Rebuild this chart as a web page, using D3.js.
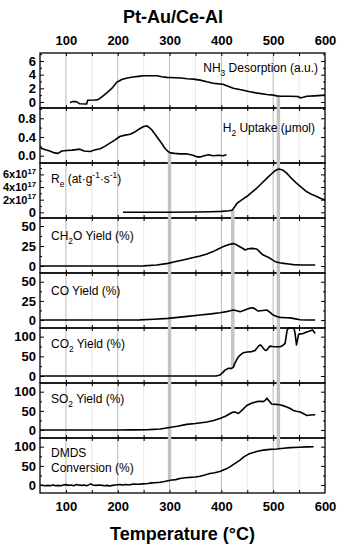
<!DOCTYPE html>
<meta charset="utf-8">
<script src="https://d3js.org/d3.v7.min.js"></script>
<style>
  body { margin: 0; background: #fff; }
  text { font-family: "Liberation Sans", Arial, sans-serif; }
</style>
<div id="my_dataviz"></div>
<script>

// ---- data: [temperature (°C), value] ----
var nh3 = [[108,-0.1],[112,0.05],[120,0.05],[126,-0.25],[140,-0.3],[142,0.25],[155,0.3],[162,0.35],[170,0.8],[180,1.4],
  [190,2.1],[198,2.9],[208,3.3],[218,3.5],[230,3.65],[240,3.75],[250,3.85],[262,3.85],[276,3.85],[285,3.7],[295,3.6],
  [310,3.55],[322,3.5],[334,3.4],[346,3.35],[359,3.2],[372,2.95],[384,2.75],[395,2.65],[403,2.6],[413,2.3],[423,2.0],
  [440,1.75],[455,1.5],[470,1.3],[488,1.1],[500,1.0],[507,0.9],[515,0.85],[533,0.85],[548,0.8],[552,0.6],[558,0.7],
  [565,0.85],[580,0.9],[600,1.0]];

var h2 = [[50,0.18],[55,0.15],[62,0.12],[69,0.1],[78,0.06],[85,0.05],[92,0.1],[102,0.11],[112,0.12],[120,0.13],[127,0.14],
  [135,0.1],[147,0.09],[155,0.12],[166,0.15],[175,0.2],[185,0.27],[195,0.34],[204,0.41],[214,0.44],[224,0.46],[232,0.5],
  [240,0.56],[249,0.62],[256,0.64],[261,0.6],[266,0.55],[272,0.46],[278,0.37],[285,0.26],[291,0.16],[297,0.09],[302,0.06],
  [310,0.05],[320,0.04],[332,0.04],[345,0.01],[352,-0.02],[359,-0.03],[367,0.0],[375,0.02],[384,0.0],[395,0.01],[403,0.0],[410,0.02]];

// Re in units of 1e17 at g-1 s-1
var re = [[210,0],[250,0],[300,0.02],[350,0.05],[380,0.1],[400,0.15],[415,0.25],[421,0.35],[425,0.8],[430,1.4],[440,2.0],
  [449,2.5],[458,3.1],[468,3.8],[478,4.6],[488,5.4],[497,6.1],[504,6.6],[511,6.85],[518,6.7],[526,6.2],[535,5.4],
  [545,4.6],[555,3.9],[565,3.25],[575,2.8],[584,2.5],[592,2.2],[600,1.95]];

var ch2o = [[50,0],[200,0],[250,0.2],[275,1.2],[297,3.3],[310,5.2],[326,7.5],[342,10],[359,12.5],[372,15],[384,18],[395,21.5],
  [403,24],[413,26.5],[423,28],[428,27],[433,25],[440,22.5],[446,20],[452,21.5],[459,22],[465,21.5],[469,21],[475,17],
  [480,14],[487,12],[494,9.6],[500,7],[504,5.4],[512,4],[520,3.3],[530,2.4],[539,1.7],[555,1.3],[581,1.2]];

var co = [[50,0],[200,0],[243,0.2],[270,1],[297,2.2],[330,4.5],[359,6.5],[380,8],[397,9.5],[410,11],[417,12],[423,13],
  [430,12],[436,10.8],[443,12.5],[449,14],[455,15.5],[461,16],[466,14],[471,11.7],[480,12.5],[488,13],[494,10],[500,6.5],
  [507,4.5],[513,3.5],[525,3],[533,2.8],[543,1.5],[552,0.4],[565,0],[581,0]];

var co2 = [[50,0],[200,0],[300,0],[390,0],[397,2.5],[402,8],[407,15],[414,19.5],[420,19.5],[423,22],[426,32],[430,42],
  [433,49],[438,55],[442,59],[450,61],[459,62],[465,65],[468,70],[472,76],[475,79],[478,76],[481,70],[485,65],[488,66],
  [491,72],[494,76],[499,75],[504,74.5],[513,74.5],[518,77],[523,83],[527,117],[530,122],[540,122],[542,110],[545,79],
  [549,106],[553,107],[558,108],[563,111],[568,113],[572,115],[576,117],[581,108]];

var so2 = [[50,0],[200,0],[230,0.3],[260,1],[282,2.5],[297,6],[315,10],[333,14.6],[350,17],[372,21],[385,25],[397,30],
  [408,36],[417,43],[423,47],[428,46],[433,43],[440,52],[449,64],[458,70],[468,74],[475,75],[481,74],[485,78],[488,83],
  [492,76],[497,68],[505,67],[513,66],[520,63],[526,60],[533,56],[539,51],[545,49],[552,47],[558,43],[565,38],[572,39],[581,40]];

var dmds = [[50,0],[55,-1],[60,-2],[65,-1],[70,-2],[75,0],[80,-2],[85,-1],[90,-2],[95,0],[100,1],[105,-1],[110,0],[115,-2],
  [120,1],[125,0],[130,-1],[135,0],[140,-2],[145,1],[148,3],[152,0],[158,-1],[165,0],[170,-1],[175,-2],[180,-1],[185,-2.6],
  [190,-1],[195,0],[200,0.5],[205,1],[210,0],[215,1.5],[220,0.5],[225,1],[230,2.5],[240,2],[249,3],[258,4],[265,5.5],
  [272,6],[282,7],[290,9],[297,11],[305,13],[312,14],[320,17],[330,19],[340,20],[350,21],[359,23],[368,26],[378,30],
  [387,32],[397,35],[405,40],[412,44],[417,48],[425,55],[436,65],[442,72],[449,78],[455,82],[462,85],[470,88],[481,91],
  [494,93],[507,94],[520,96],[533,97.5],[550,98.5],[565,99.5],[578,100]];

// tick values
var xLabels = [100,200,300,400,500,600];
var xMinor = [100,150,200,250,300,350,400,450,500,550];
var xGridMajor = [100,200,300,400,500];
var xGridMinor = [150,250,350,450,550];

// grey marker bands: temperature, panel where it starts, panel where it ends
var bandTemps = [300,422,510];
var bandFrom = [1,2,0];
var bandTo = [7,5,7];

// ---- layout ----
var left = 40, right = 325, top0 = 53, panelH = 55;

var svg = d3.select("#my_dataviz")
  .append("svg")
    .attr("width", 340)
    .attr("height", 550);

var x = d3.scaleLinear().domain([50, 600]).range([left, right]);

var panels = [
  {data: nh3,  domain: [-0.88, 7.17], ticks: [0,2,4,6],   minor: [1,3,5,7],   fmt: d3.format("d"),
   label: [["NH"],["3","sub"],[" Desorption (a.u.)"]], lx: 318, ly: 19, anchor: "end"},
  {data: h2,   domain: [-0.156, 1.02], ticks: [0,0.4,0.8], minor: [0.2,0.6,1.0], fmt: d3.format(".1f"),
   label: [["H"],["2","sub"],[" Uptake (\u03bcmol)"]], lx: 315, ly: 24, anchor: "end"},
  {data: re,   domain: [-0.9, 7.8],   ticks: [0,2,4,6],   minor: [1,3,5,7],   fmt: null,
   label: [["R"],["e","sub"],[" (at\u00b7g"],["-1","sup"],["\u00b7s"],["-1","sup"],[")"]], lx: 51, ly: 20, anchor: "start"},
  {data: ch2o, domain: [-8.75, 60],   ticks: [0,25,50],   minor: [12.5,37.5], fmt: d3.format("d"),
   label: [["CH"],["2","sub"],["O Yield (%)"]], lx: 51, ly: 22, anchor: "start"},
  {data: co,   domain: [-10.4, 61.4], ticks: [0,25,50],   minor: [12.5,37.5], fmt: d3.format("d"),
   label: [["CO Yield (%)"]], lx: 51, ly: 22, anchor: "start"},
  {data: co2,  domain: [-17.8, 122],  ticks: [0,50,100],  minor: [25,75],     fmt: d3.format("d"),
   label: [["CO"],["2","sub"],[" Yield (%)"]], lx: 51, ly: 20, anchor: "start"},
  {data: so2,  domain: [-20.9, 122.7], ticks: [0,50,100], minor: [25,75],     fmt: d3.format("d"),
   label: [["SO"],["2","sub"],[" Yield (%)"]], lx: 51, ly: 20, anchor: "start"},
  {data: dmds, domain: [-20.9, 122.7], ticks: [0,50,100], minor: [25,75],     fmt: d3.format("d"),
   label: [["DMDS"]], label2: [["Conversion (%)"]], lx: 51, ly: 19, anchor: "start"}
];

panels.forEach(function(p, i) {
  p.top = top0 + i * panelH;
  p.bottom = p.top + panelH;
  p.y = d3.scaleLinear().domain(p.domain).range([p.bottom, p.top]);
});

// write a label with sub/superscripts
function rich(sel, parts, size) {
  var shift = 0;
  parts.forEach(function(p) {
    var want = p[1] == "sub" ? size * 0.3 : p[1] == "sup" ? -size * 0.4 : 0;
    sel.append("tspan")
      .text(p[0])
      .attr("dy", want - shift)
      .attr("font-size", p[1] ? size * 0.7 : size);
    shift = want;
  });
}

// linear lookup of a series at temperature t (for the grey band ends)
function valueAt(data, t) {
  for (var k = 1; k < data.length; k++) {
    if (data[k][0] >= t) {
      var a = data[k-1], b = data[k];
      return a[1] + (b[1] - a[1]) * (t - a[0]) / (b[0] - a[0]);
    }
  }
  return data[data.length-1][1];
}

var gridG = svg.append("g");
var axisG = svg.append("g");
var bandG = svg.append("g");
var lineG = svg.append("g");
var textG = svg.append("g");

panels.forEach(function(p, i) {
  // vertical grid
  gridG.selectAll(null).data(xGridMinor).enter().append("line")
    .attr("x1", function(d) { return x(d); }).attr("x2", function(d) { return x(d); })
    .attr("y1", p.top).attr("y2", p.bottom)
    .attr("stroke", "#e2e2e2").attr("stroke-width", 0.8);
  gridG.selectAll(null).data(xGridMajor).enter().append("line")
    .attr("x1", function(d) { return x(d); }).attr("x2", function(d) { return x(d); })
    .attr("y1", p.top).attr("y2", p.bottom)
    .attr("stroke", "#a8a8a8").attr("stroke-width", 0.8);

  // y axis left (inward ticks)
  var yl = axisG.append("g").attr("transform", "translate(" + left + ",0)")
    .call(d3.axisLeft(p.y).tickValues(p.ticks).tickSize(-4).tickPadding(4)
      .tickFormat(p.fmt ? p.fmt : function(d) { return d; }));
  yl.selectAll("text").attr("font-size", 13).attr("font-weight", "bold").attr("font-family", null).attr("fill", "#000");
  if (!p.fmt) {
    yl.selectAll(".tick text").each(function(d) {
      var t = d3.select(this).text("");
      if (d == 0) { t.attr("font-size", 13).text("0"); return; }
      t.attr("font-size", 11);
      rich(t, [[d + "x10"], ["17", "sup"]], 11);
      t.select("tspan").attr("dy", null);
    });
  }
  axisG.append("g").attr("transform", "translate(" + left + ",0)")
    .call(d3.axisLeft(p.y).tickValues(p.minor).tickSize(-2).tickFormat(""));

  // y axis right
  axisG.append("g").attr("transform", "translate(" + right + ",0)")
    .call(d3.axisRight(p.y).tickValues(p.ticks).tickSize(-4).tickFormat(""));
  axisG.append("g").attr("transform", "translate(" + right + ",0)")
    .call(d3.axisRight(p.y).tickValues(p.minor).tickSize(-2).tickFormat(""));

  // x ticks top and bottom of every panel
  axisG.append("g").attr("transform", "translate(0," + p.top + ")")
    .call(d3.axisTop(x).tickValues(xMinor).tickSize(-3).tickFormat(""));
  axisG.append("g").attr("transform", "translate(0," + p.bottom + ")")
    .call(d3.axisBottom(x).tickValues(xMinor).tickSize(-3).tickFormat(""));

  axisG.append("rect")
    .attr("x", left).attr("y", p.top)
    .attr("width", right - left).attr("height", panelH)
    .attr("fill", "none").attr("stroke", "#000").attr("stroke-width", 1.3);

  // the curve
  lineG.append("path")
    .datum(p.data)
    .attr("fill", "none")
    .attr("stroke", "#000")
    .attr("stroke-width", 1.6)
    .attr("stroke-linejoin", "round")
    .attr("d", d3.line().x(function(d) { return x(d[0]); }).y(function(d) { return p.y(d[1]); }));

  // panel label
  var lt = textG.append("text")
    .attr("x", p.lx).attr("y", p.top + p.ly)
    .attr("text-anchor", p.anchor).attr("font-size", 12);
  rich(lt, p.label, 12);
  if (p.label2) {
    var lt2 = textG.append("text")
      .attr("x", p.lx).attr("y", p.top + p.ly + 15)
      .attr("text-anchor", p.anchor).attr("font-size", 12);
    rich(lt2, p.label2, 12);
  }
});

axisG.selectAll(".domain").remove();
axisG.selectAll(".tick line").attr("stroke", "#000").attr("stroke-width", 1);

// grey bands joining features across panels
bandG.selectAll("line").data(bandTemps).enter().append("line")
  .attr("x1", function(d) { return x(d); })
  .attr("x2", function(d) { return x(d); })
  .attr("y1", function(d, i) { var p = panels[bandFrom[i]]; return p.y(valueAt(p.data, d)); })
  .attr("y2", function(d, i) { var p = panels[bandTo[i]]; return p.y(valueAt(p.data, d)); })
  .attr("stroke", "#c4c4c4")
  .attr("stroke-width", 3.5);

// temperature labels top and bottom
var topAx = svg.append("g").attr("transform", "translate(0," + top0 + ")")
  .call(d3.axisTop(x).tickValues(xLabels).tickSize(0).tickPadding(8));
var botAx = svg.append("g").attr("transform", "translate(0," + (top0 + panels.length * panelH) + ")")
  .call(d3.axisBottom(x).tickValues(xLabels).tickSize(0).tickPadding(9));
[topAx, botAx].forEach(function(a) {
  a.select(".domain").remove();
  a.selectAll("text").attr("font-size", 13).attr("font-weight", "bold").attr("font-family", null).attr("fill", "#000");
});

svg.append("text")
  .attr("x", 173).attr("y", 23)
  .attr("text-anchor", "middle")
  .attr("font-size", 18).attr("font-weight", "bold")
  .text("Pt-Au/Ce-Al");

svg.append("text")
  .attr("x", (left + right) / 2).attr("y", 540)
  .attr("text-anchor", "middle")
  .attr("font-size", 18).attr("font-weight", "bold")
  .text("Temperature (\u00b0C)");

</script>
